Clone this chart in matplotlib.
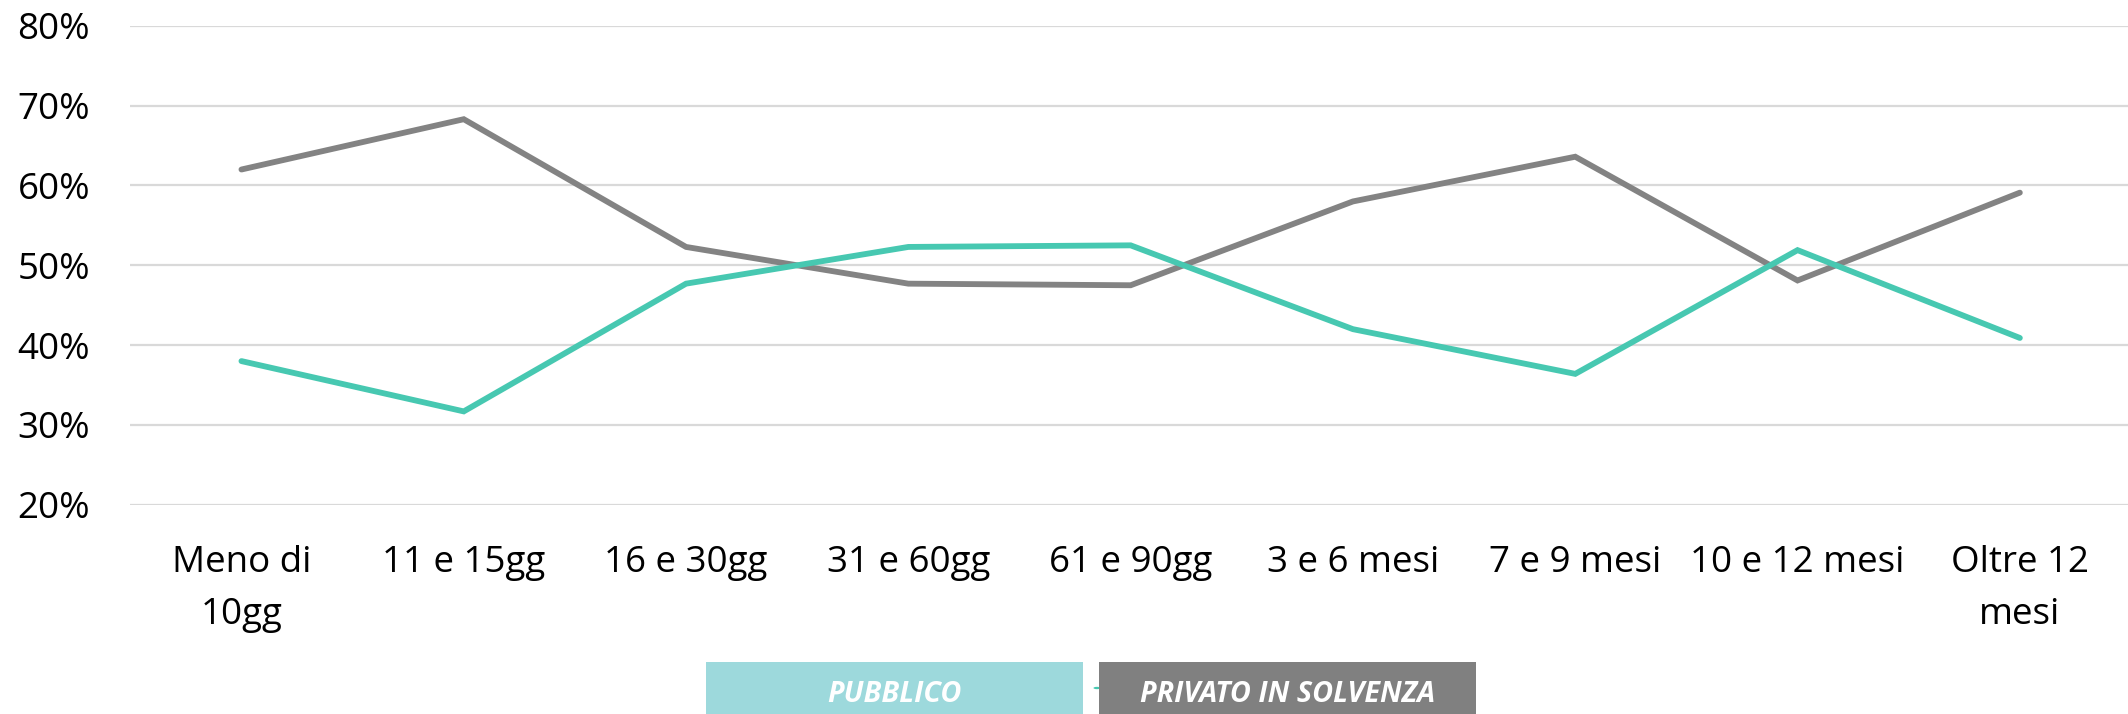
import matplotlib
matplotlib.use("Agg")
import matplotlib.pyplot as plt
from matplotlib.patches import Rectangle, Circle
from matplotlib.ticker import FuncFormatter

categories = ["Meno di\n10gg", "11 e 15gg", "16 e 30gg", "31 e 60gg", "61 e 90gg",
              "3 e 6 mesi", "7 e 9 mesi", "10 e 12 mesi", "Oltre 12\nmesi"]
pubblico = [0.380, 0.317, 0.477, 0.523, 0.525, 0.420, 0.364, 0.519, 0.409]
privato = [0.620, 0.683, 0.523, 0.477, 0.475, 0.580, 0.636, 0.481, 0.591]
series_names = ["PUBBLICO", "PRIVATO IN SOLVENZA"]
yticks = [0.2, 0.3, 0.4, 0.5, 0.6, 0.7, 0.8]

plt.rcParams['font.family'] = ['Open Sans', 'DejaVu Sans']

W, H = 2128, 714
fig = plt.figure(figsize=(W / 100, H / 100), dpi=100)
left, right = 130.3 / W, 2131 / W
bottom, top = 1 - 504.8 / H, 1 - 25.8 / H
ax = fig.add_axes([left, bottom, right - left, top - bottom])

x = list(range(len(categories)))
ax.plot(x, privato, color="#838383", lw=4.2, solid_capstyle="round", solid_joinstyle="miter", zorder=3)
ax.plot(x, pubblico, color="#47C8B1", lw=4.2, solid_capstyle="round", solid_joinstyle="miter", zorder=4)

ax.set_xlim(-0.5, len(categories) - 0.5)
ax.set_ylim(0.2, 0.8)
ax.set_yticks(yticks)
ax.yaxis.set_major_formatter(FuncFormatter(lambda v, p: f"{v*100:.0f}%"))
ax.set_xticks(x)
ax.set_xticklabels(categories, linespacing=1.6)
ax.tick_params(axis="both", length=0, labelsize=26.5, colors="black")
ax.tick_params(axis="y", pad=29)
ax.tick_params(axis="x", pad=29)
ax.grid(axis="y", color="#D9D9D9", lw=1.6, zorder=0)
ax.set_axisbelow(True)
for s in ax.spines.values():
    s.set_visible(False)

# custom legend boxes
box_colors = ["#9DD9DC", "#808080"]
box_x = [706, 1099]
box_w = 377
fig.patches.append(Circle((1097 / W, 1 - 688 / H), 3.5 / W, transform=fig.transFigure,
                          facecolor="#47C8B1", edgecolor="none", zorder=1))
for name, c, bx in zip(series_names, box_colors, box_x):
    fig.patches.append(Rectangle((bx / W, 0), box_w / W, 52 / H, transform=fig.transFigure,
                                 facecolor=c, edgecolor="none", zorder=2))
    fig.text((bx + box_w / 2) / W, 1 - 694 / H, name, color="white", fontsize=20.7,
             fontweight="bold", fontstyle="italic", ha="center", va="center", zorder=3)

fig.savefig("out.png", dpi=100)
